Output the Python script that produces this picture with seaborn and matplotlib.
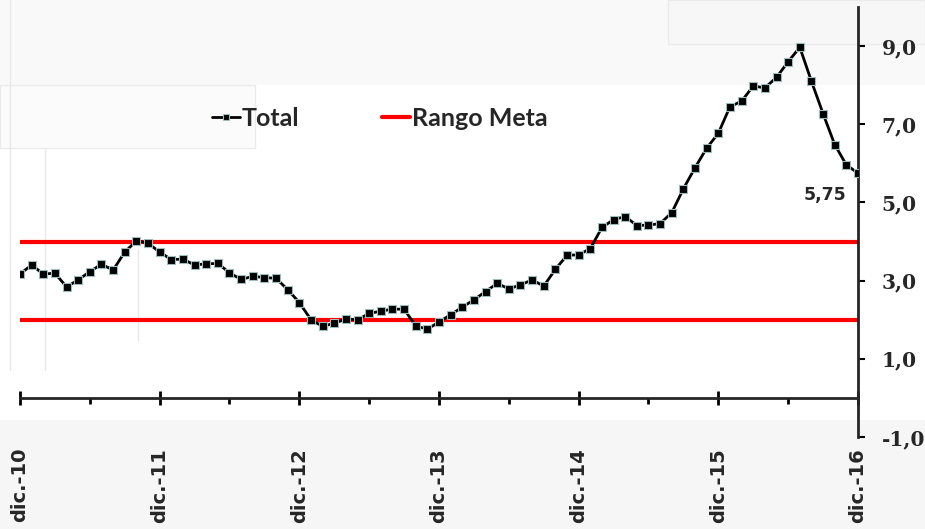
import matplotlib
matplotlib.use("Agg")
import matplotlib.pyplot as plt
from matplotlib.lines import Line2D
from matplotlib.patches import Rectangle
from matplotlib.ticker import FixedLocator
import seaborn as sns
import pandas as pd

# ---------------- data ----------------
tick_labels = ["dic.-10", "dic.-11", "dic.-12", "dic.-13", "dic.-14", "dic.-15", "dic.-16"]
total = [
    3.17,
    3.40, 3.17, 3.19, 2.84, 3.02, 3.23, 3.42, 3.27, 3.73, 4.02, 3.96, 3.73,
    3.54, 3.55, 3.40, 3.43, 3.44, 3.20, 3.03, 3.11, 3.08, 3.06, 2.77, 2.44,
    2.00, 1.83, 1.91, 2.02, 2.00, 2.16, 2.22, 2.27, 2.27, 1.84, 1.76, 1.94,
    2.13, 2.32, 2.51, 2.72, 2.93, 2.79, 2.89, 3.02, 2.86, 3.29, 3.65, 3.66,
    3.82, 4.36, 4.56, 4.64, 4.41, 4.42, 4.46, 4.74, 5.35, 5.89, 6.39, 6.77,
    7.45, 7.59, 7.98, 7.93, 8.20, 8.60, 8.97, 8.10, 7.27, 6.48, 5.96, 5.75,
]
rango_meta = [2.0, 4.0]
y_ticks = [-1, 1, 3, 5, 7, 9]
last_label = "5,75"

df = pd.DataFrame({"mes": list(range(len(total))), "Total": total})

# ---------------- figure ----------------
sns.set_style("white")
plt.rcParams["font.family"] = ["DejaVu Sans"]

fig = plt.figure(figsize=(9.25, 5.29), dpi=100)
fig.patch.set_facecolor("white")

# faint slide-background panels, drawn in a background axes
bg = fig.add_axes([0, 0, 1, 1], zorder=-10)
bg.set_xlim(0, 925)
bg.set_ylim(529, 0)
bg.axis("off")
bg.add_patch(Rectangle((0, 420), 925, 109, facecolor="#f6f6f6", edgecolor="none"))
bg.add_patch(Rectangle((0, 0), 925, 85, facecolor="#f9f9f9", edgecolor="none"))
bg.add_patch(Rectangle((0, 85), 255, 63, facecolor="#fbfbfb", edgecolor="#ebebeb", lw=1))
bg.add_patch(Rectangle((668, 0), 257, 44, facecolor="#f7f7f7", edgecolor="#ebebeb", lw=1))
bg.plot([10, 10], [0, 370], color="#e8e8e8", lw=1)
bg.plot([45, 45], [148, 370], color="#e8e8e8", lw=1)
bg.plot([138, 138], [250, 340], color="#e8e8e8", lw=1)

ax = fig.add_axes([20 / 925, 92 / 529, 838 / 925, 430 / 529], zorder=1)
ax.set_facecolor("none")

# target range lines
for v in rango_meta:
    ax.axhline(v, color="#ff0000", lw=3, zorder=2)

sns.lineplot(data=df, x="mes", y="Total", ax=ax, color="black", lw=2,
             marker="s", markersize=5.5, markeredgecolor="#9dbcbc",
             markeredgewidth=0.8, markerfacecolor="black", zorder=3)

n = len(total) - 1
ax.set_xlim(0, n)
ax.set_ylim(-1, 10)

# spines
for s in ["top", "left"]:
    ax.spines[s].set_visible(False)
ax.spines["bottom"].set_position(("data", 0))
ax.spines["bottom"].set_linewidth(2)
ax.spines["right"].set_linewidth(2)
ax.spines["right"].set_bounds(-1, 10)

# x axis
ax.xaxis.set_major_locator(FixedLocator(list(range(0, n + 1, 12))))
ax.xaxis.set_minor_locator(FixedLocator(list(range(6, n, 12))))
ax.set_xticklabels(tick_labels, rotation=90, fontsize=14, fontweight="bold",
                   family=["DejaVu Sans"], va="top", ha="center")
ax.tick_params(axis="x", which="major", direction="inout", length=10, width=2,
               pad=31, bottom=True, color="black")
ax.tick_params(axis="x", which="minor", direction="out", length=4, width=2,
               bottom=True, color="black")
ax.set_xlabel("")

# y axis on right
ax.yaxis.tick_right()
ax.set_yticks(y_ticks)
ax.set_yticklabels([f"{v:.1f}".replace(".", ",") for v in y_ticks],
                   fontsize=14.5, fontweight="bold", family=["DejaVu Serif"])
ax.tick_params(axis="y", which="major", direction="out", length=5, width=1.5,
               pad=12, right=True, left=False, color="black")
ax.set_ylabel("")

# last value annotation
ax.annotate(last_label, xy=(n, total[-1]), xytext=(-12, -22),
            textcoords="offset pixels", ha="right", va="center",
            fontsize=12.5, fontweight="bold", family=["DejaVu Sans"])

# legend
handles = [
    Line2D([], [], color="black", lw=2, marker="s", markersize=4.5,
           markerfacecolor="black", markeredgecolor="#9dbcbc", markeredgewidth=0.8),
    Line2D([], [], color="#ff0000", lw=3),
]
leg = fig.legend(handles, ["Total", "Rango Meta"], ncol=2, frameon=False,
                 loc="center left", bbox_to_anchor=(212 / 925, 1 - 118 / 529),
                 borderpad=0, borderaxespad=0, handlelength=1.1, handletextpad=0.1,
                 columnspacing=3.3,
                 prop={"family": ["Lato", "DejaVu Sans"], "weight": "bold", "size": 18})

fig.savefig("out.png", dpi=100, facecolor=fig.get_facecolor())
